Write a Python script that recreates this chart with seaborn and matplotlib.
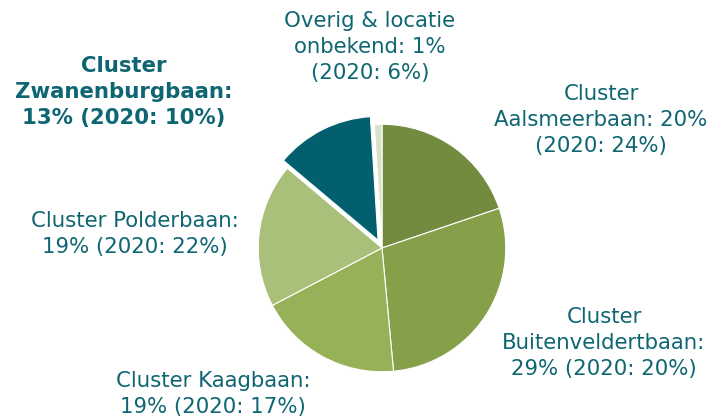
import matplotlib
matplotlib.use("Agg")
import matplotlib.pyplot as plt
import seaborn as sns

sns.set_theme(style="white")
plt.rcParams['font.family'] = ['DejaVu Sans']

# data (clockwise from the top)
clusters = ["Aalsmeerbaan", "Buitenveldertbaan", "Kaagbaan", "Polderbaan", "Zwanenburgbaan", "Overig"]
share = [20, 29, 19, 19, 13, 1]
share_2020 = [24, 20, 17, 22, 10, 6]
colors = ["#738b3f", "#86a04a", "#97b159", "#a9c07a", "#02606e", "#d8e2c8"]
explode = [0, 0, 0, 0, 0.07, 0]

text_col = "#0e6672"

fig = plt.figure(figsize=(7.26, 4.16), dpi=100)
ax = fig.add_axes([(382 - 150) / 726, (168 - 150) / 416, 300 / 726, 300 / 416])
ax.pie(share, colors=colors, explode=explode, startangle=90, counterclock=False,
       radius=0.99, wedgeprops=dict(edgecolor="white", linewidth=0.8))
ax.set_xlim(-1.2, 1.2)
ax.set_ylim(-1.2, 1.2)
ax.set_aspect("equal")
ax.axis("off")

fs = 15.3
ls = 1.38

def lab(x, y, s, **kw):
    fig.text(x / 726, 1 - y / 416, s, ha="center", va="center", fontsize=fs,
             color=text_col, linespacing=ls, **kw)

lab(370, 47, "Overig & locatie\nonbekend: %d%%\n(2020: %d%%)" % (share[5], share_2020[5]))
lab(124, 92, "Cluster\nZwanenburgbaan:\n%d%% (2020: %d%%)" % (share[4], share_2020[4]),
    fontweight="bold")
lab(601, 120, "Cluster\nAalsmeerbaan: %d%%\n(2020: %d%%)" % (share[0], share_2020[0]))
lab(135, 234, "Cluster Polderbaan:\n%d%% (2020: %d%%)" % (share[3], share_2020[3]))
lab(604, 343, "Cluster\nBuitenveldertbaan:\n%d%% (2020: %d%%)" % (share[1], share_2020[1]))
lab(213, 394, "Cluster Kaagbaan:\n%d%% (2020: %d%%)" % (share[2], share_2020[2]))

fig.savefig("out.png", dpi=100, facecolor="white")
